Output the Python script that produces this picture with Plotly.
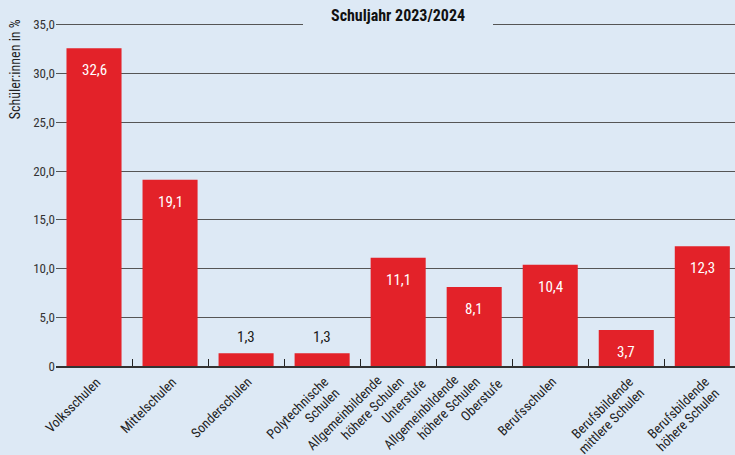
import plotly.graph_objects as go

categories = ["Volksschulen", "Mittelschulen", "Sonderschulen", "Polytechnische<br>Schulen",
              "Allgemeinbildende<br>höhere Schulen<br>Unterstufe",
              "Allgemeinbildende<br>höhere Schulen<br>Oberstufe",
              "Berufsschulen", "Berufsbildende<br>mittlere Schulen", "Berufsbildende<br>höhere Schulen"]
values = [32.6, 19.1, 1.3, 1.3, 11.1, 8.1, 10.4, 3.7, 12.3]
y_ticks = [0, 5, 10, 15, 20, 25, 30, 35]
y_tick_labels = ["0", "5,0", "10,0", "15,0", "20,0", "25,0", "30,0", "35,0"]

BG = "#dde9f5"
RED = "#e32229"
FONT = "Liberation Sans Narrow, Roboto Condensed, Arial Narrow, sans-serif"

# styling of the rotated, multi-line category labels (pixel offsets per line count)
LABEL_BASE = (12, 5)                      # anchor offset from tick centre (right, down)
LABEL_STEP = {1: (0, 0), 2: (11.5, 11), 3: (21.7, 2)}
LABEL_CENTER = {1: 0, 2: 0, 3: 1}

fig = go.Figure()
fig.add_trace(go.Bar(x=categories, y=values, marker_color=RED,
                     marker_line_width=0, hoverinfo="skip"))

annotations = []
for cat, v in zip(categories, values):
    label = f"{v:.1f}".replace(".", ",")
    inside = v >= 3
    annotations.append(dict(x=cat, y=v, xref="x", yref="y", text=label, showarrow=False,
                            yshift=-22 if inside else 16,
                            font=dict(family=FONT, size=15, color="white" if inside else "#1a1a1a")))

# category labels
for cat in categories:
    lines = cat.split("<br>")
    n = len(lines)
    sx, sy = LABEL_STEP[n]
    c = LABEL_CENTER[n]
    for k, line in enumerate(lines):
        dx = LABEL_BASE[0] + (k - c) * sx
        dy = LABEL_BASE[1] + (k - c) * sy
        annotations.append(dict(x=cat, y=0, xref="x", yref="y", text=line, showarrow=False,
                                textangle=-45, xanchor="right", yanchor="top",
                                xshift=dx, yshift=-dy,
                                font=dict(family=FONT, size=13.5, color="#222")))

# Title
annotations.append(dict(x=0.504, y=1.0, xref="paper", yref="paper", text="<b>Schuljahr 2023/2024</b>",
                        showarrow=False, font=dict(family=FONT, size=16, color="#111"),
                        xanchor="center", yanchor="middle", yshift=7))
# Y title
annotations.append(dict(x=-0.06, y=1.0, xref="paper", yref="paper", text="Schüler:innen in %",
                        textangle=-90, showarrow=False, font=dict(family=FONT, size=14, color="#222"),
                        xanchor="center", yanchor="top", yshift=5))

fig.update_layout(
    width=735, height=455,
    margin=dict(l=56, r=0, t=22, b=89),
    paper_bgcolor=BG, plot_bgcolor=BG,
    bargap=0.276,
    showlegend=False,
    annotations=annotations,
    shapes=[dict(type="rect", xref="paper", yref="paper", x0=(303 - 56) / 679, x1=(493 - 56) / 679,
                 y0=0.97, y1=1.02, fillcolor=BG, line_width=0, layer="above")],
    font=dict(family=FONT, color="#222"),
)
fig.update_xaxes(
    type="category", showticklabels=False,
    range=[-0.5, 8.43], ticks="inside", tickson="boundaries", ticklen=7, tickcolor="#222",
    showline=True, linecolor="#333", linewidth=1.5, showgrid=False, zeroline=False, automargin=False,
)
fig.update_yaxes(
    range=[0, 35.3], tickmode="array", tickvals=y_ticks, ticktext=y_tick_labels,
    tickfont=dict(family=FONT, size=13, color="#333"), automargin=False,
    showgrid=True, gridcolor="#555555", gridwidth=1, zeroline=False, showline=False, ticks="",
)
fig.write_html("out.html", config={"displayModeBar": False},
               post_script="document.body.style.margin='0';document.body.style.padding='0';")
